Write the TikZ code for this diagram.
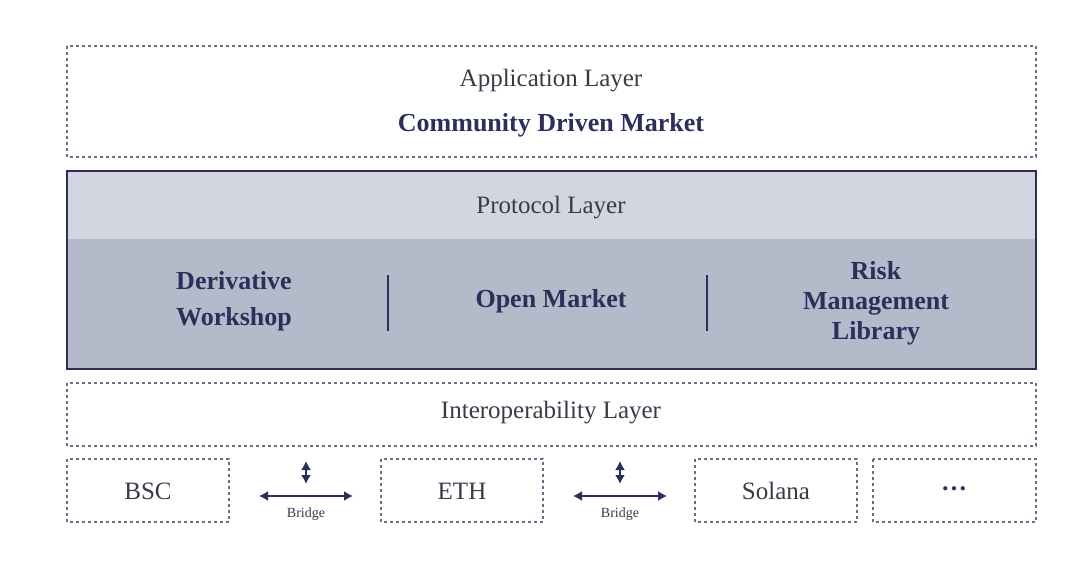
\documentclass[tikz,border=0pt]{standalone}
\usepackage{fontspec}
\setmainfont{Liberation Serif}
\usetikzlibrary{arrows.meta}
\definecolor{navy}{HTML}{2B2F5A}
\definecolor{txt}{HTML}{3A3A48}
\definecolor{bandA}{HTML}{D3D6E0}
\definecolor{bandB}{HTML}{B5BACB}
\begin{document}
\begin{tikzpicture}[x=0.5pt,y=-0.5pt,
  dbox/.style={draw=navy!70,dash pattern=on 1.3pt off 1.7pt,line width=0.6pt},
  reg/.style={text=txt,font=\fontsize{12.5}{14}\selectfont},
  bld/.style={text=navy,font=\fontsize{13}{15}\selectfont\bfseries,align=center},
  sml/.style={text=txt,font=\fontsize{7}{8}\selectfont},
  arr/.style={draw=navy,line width=0.8pt,{Latex[length=4.5pt,width=5pt]}-{Latex[length=4.5pt,width=5pt]}}]
\useasboundingbox (0,0) rectangle (1084,584);
% application
\draw[dbox] (67,46) rectangle (1036,157);
\node[reg] (app) at (551,81) {Application Layer};
\node[bld] (cdm) at (551,125) {Community Driven Market};
% protocol
\fill[bandA] (67,171) rectangle (1036,239);
\fill[bandB] (67,239) rectangle (1036,369);
\draw[navy,line width=1.2pt] (67,171) rectangle (1036,369);
\node[reg] (pl) at (551,208) {Protocol Layer};
\node[bld,font=\fontsize{13}{18}\selectfont\bfseries] (dw) at (234,301) {Derivative\\Workshop};
\node[bld] (om) at (551,301) {Open Market};
\node[bld,font=\fontsize{13}{15}\selectfont\bfseries] (rml) at (876,303) {Risk\\Management\\Library};
\coordinate (d1a) at (388,275); \coordinate (d1b) at (388,331);
\coordinate (d2a) at (707,275); \coordinate (d2b) at (707,331);
\draw[navy,line width=0.7pt] (d1a)--(d1b) (d2a)--(d2b);
% interop
\draw[dbox] (67,383) rectangle (1036,446);
\node[reg] (il) at (551,413) {Interoperability Layer};
% chains
\draw[dbox] (67,459) rectangle (229,522); \node[reg] (bsc) at (148,491) {BSC};
\draw[dbox] (381,459) rectangle (543,522); \node[reg] (eth) at (462,491) {ETH};
\draw[dbox] (695,459) rectangle (857,522); \node[reg] (sol) at (776,491) {Solana};
\draw[dbox] (873,459) rectangle (1036,522); \node[bld] (dots) at (954,489) {…};
% bridges
\foreach \c/\n in {306/b1,620/b2}{
  \coordinate (\n l) at (\c-47,496); \coordinate (\n r) at (\c+47,496);
  \coordinate (\n t) at (\c,461); \coordinate (\n d) at (\c,484);
  \draw[arr] (\n l)--(\n r);
  \draw[arr] (\n t)--(\n d);
  \node[sml] (\n lab) at (\c,514) {Bridge};
}
\end{tikzpicture}
\end{document}
